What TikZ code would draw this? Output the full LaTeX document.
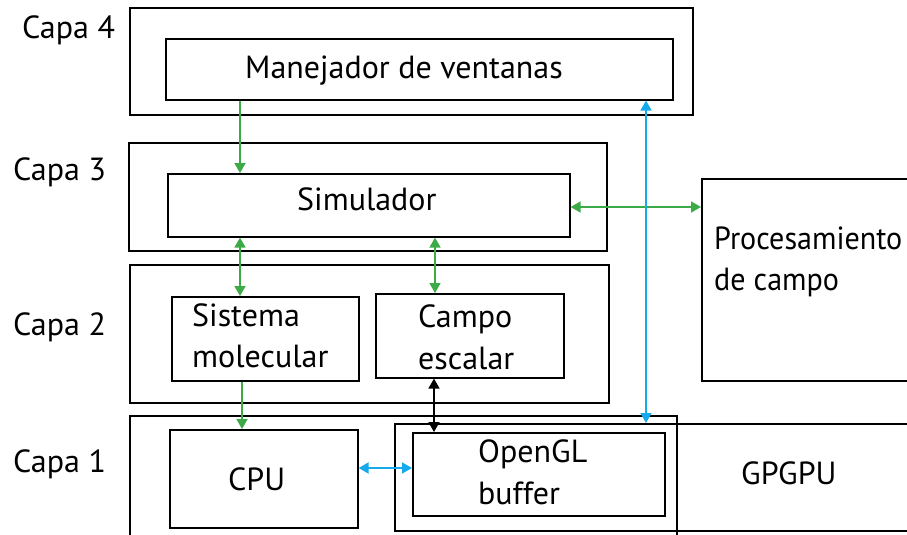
\documentclass[tikz,border=0pt]{standalone}
\usepackage{fontspec}
\setmainfont{PT Sans}
\usetikzlibrary{arrows.meta}
\definecolor{arrgreen}{RGB}{60,170,70}
\definecolor{arrcyan}{RGB}{20,170,235}
\begin{document}
\begin{tikzpicture}[x=1pt,y=-1pt,
  box/.style={draw=black, line width=1.6pt, inner sep=0pt},
  lbl/.style={inner sep=0pt, anchor=base west, font=\fontsize{32}{41}\selectfont},
  tip/.style={-{Triangle[length=10pt,width=11pt]}},
  dtip/.style={{Triangle[length=10pt,width=11pt]}-{Triangle[length=10pt,width=11pt]}},
  garr/.style={draw=arrgreen, fill=arrgreen, line width=1.6pt},
  carr/.style={draw=arrcyan, fill=arrcyan, line width=1.6pt},
  karr/.style={draw=black, fill=black, line width=1.6pt}]
\useasboundingbox (0,0) rectangle (907,535);
\clip (0,0) rectangle (907,535);

% layer frames
\draw[box] (130,8) rectangle (693,115);
\draw[box] (129,143) rectangle (607,251);
\draw[box] (130,265) rectangle (609,403);
\draw[box] (130,545) -- (130,416) -- (677,416) -- (677,545);

% layer labels
\node[lbl] (c4) at (22,38) {Capa 4};
\node[lbl] (c3) at (13,180) {Capa 3};
\node[lbl] (c2) at (13,335) {Capa 2};
\node[lbl] (c1) at (13,472) {Capa 1};

% components
\node[box, anchor=north west, minimum width=507pt, minimum height=61pt] (man) at (165,38) {};
\node[lbl] at (245,78) {Manejador de ventanas};
\node[box, anchor=north west, minimum width=402pt, minimum height=63pt] (sim) at (167,173) {};
\node[lbl] at (297,210) {Simulador};
\node[box, anchor=north west, minimum width=187pt, minimum height=84pt] (mol) at (171,296) {};
\node[lbl] at (192,326) {Sistema};
\node[lbl] at (192,367) {molecular};
\node[box, anchor=north west, minimum width=188pt, minimum height=84pt] (esc) at (375,293) {};
\node[lbl] at (418,327) {Campo};
\node[lbl] at (418,369) {escalar};
\node[box, anchor=north west, minimum width=188pt, minimum height=98pt] (cpu) at (169,429) {};
\node[lbl] at (228,490) {CPU};
\node[box, anchor=north west, minimum width=530pt, minimum height=107pt] (gpu) at (394,423) {};
\node[lbl] at (741,484) {GPGPU};
\node[box, anchor=north west, minimum width=252pt, minimum height=83pt] (ogl) at (412,432) {};
\node[lbl] at (478,462) {OpenGL};
\node[lbl] at (478,504) {buffer};
\node[box, anchor=north west, minimum width=230pt, minimum height=202pt] (proc) at (701,178) {};
\node[lbl] at (714,249) {\scalebox{0.94}[1]{Procesamiento}};
\node[lbl] at (714,290) {\scalebox{0.94}[1]{de campo}};

% connectors
\draw[garr, tip] (man.south -| 240,0) -- (sim.north -| 240,0);
\draw[garr, dtip] (sim.south -| 240,0) -- (mol.north -| 240,0);
\draw[garr, dtip] (sim.south -| 435,0) -- (esc.north -| 435,0);
\draw[garr, tip] (mol.south -| 242,0) -- (cpu.north -| 242,0);
\draw[garr, dtip] (sim.east |- 0,207) -- (proc.west |- 0,207);
\draw[karr, dtip] (esc.south -| 434,0) -- (ogl.north -| 434,0);
\draw[carr, dtip] (cpu.east |- 0,468) -- (ogl.west |- 0,468);
\draw[carr, dtip] (man.south -| 646,0) -- (gpu.north -| 646,0);
\end{tikzpicture}
\end{document}
